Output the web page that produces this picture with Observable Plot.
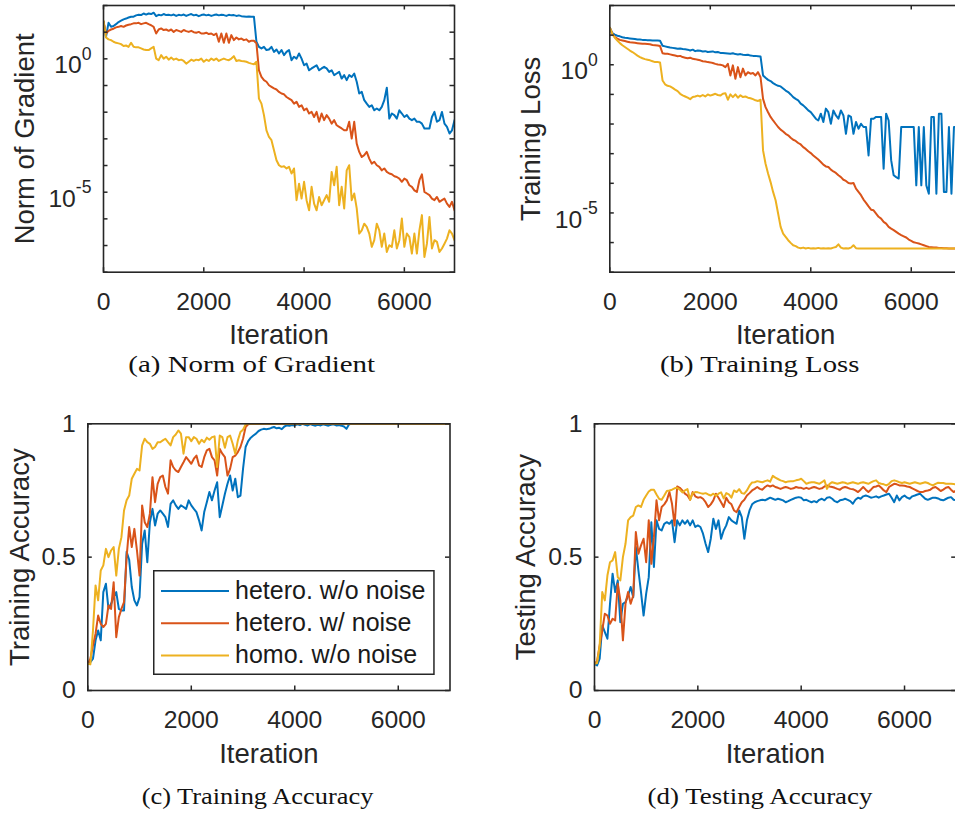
<!DOCTYPE html>
<html><head><meta charset="utf-8">
<script src="https://cdn.jsdelivr.net/npm/d3@7"></script>
<script src="https://cdn.jsdelivr.net/npm/@observablehq/plot@0.6"></script>
<style>
html,body{margin:0;padding:0;background:#fff;overflow:hidden}
#fig{position:relative;width:955px;height:816px;overflow:hidden;background:#fff}
.panel{position:absolute}
</style></head><body><div id="fig"></div>
<script>
// ---------------- data ----------------
const iterations = d3.range(0, 7001, 50); // sampling grid of the curves
const seriesNames = ["hetero. w/o noise", "hetero. w/ noise", "homo. w/o noise"];
const seriesColors = ["#0072BD", "#D95319", "#EDB120"];
const xTicks = [0, 2000, 4000, 6000];
const accTicks = [0, 0.5, 1];
const panelCaptions = ["(a) Norm of Gradient", "(b) Training Loss", "(c) Training Accuracy", "(d) Testing Accuracy"];
const yLabels = ["Norm of Gradient", "Training Loss", "Training Accuracy", "Testing Accuracy"];

// (a) norm of gradient, stored as log10 of the value (log axis)
const gradHeteroNoNoiseLog10 = [1.39,0.83,1.35,1.2,1.23,1.3,1.38,1.43,1.48,1.51,
1.55,1.58,1.58,1.63,1.65,1.64,1.7,1.66,1.7,1.68,
1.73,1.6,1.65,1.63,1.68,1.64,1.65,1.63,1.66,1.61,
1.65,1.63,1.66,1.61,1.65,1.68,1.63,1.65,1.6,1.64,
1.66,1.63,1.65,1.61,1.64,1.66,1.63,1.65,1.64,1.61,
1.65,1.63,1.64,1.61,1.63,1.6,1.59,1.58,1.59,1.58,
1.58,0.64,0.45,0.39,0.45,0.33,0.35,0.45,0.26,0.35,
0.2,0.33,0.14,0.26,0.33,-0.05,0.08,0.01,0.2,0.01,
-0.24,-0.18,-0.43,-0.36,-0.3,-0.24,-0.43,-0.36,-0.3,-0.36,
-0.49,-0.43,-0.61,-0.55,-0.49,-0.74,-0.61,-0.8,-0.61,-0.68,
-0.55,-0.86,-1.3,-1.24,-1.55,-1.68,-1.8,-1.74,-1.93,-1.86,
-1.93,-1.8,-1.55,-1.08,-2.24,-2.05,-2.11,-2.24,-1.93,-2.05,
-2.18,-2.11,-2.24,-2.3,-2.24,-2.36,-2.36,-2.43,-2.61,-2.61,
-2.61,-2.18,-1.99,-2.36,-2.3,-1.99,-2.43,-2.55,-2.8,-2.68,
-2.3];
const gradHeteroNoiseLog10 = [1.39,0.95,1.05,1.1,1.13,1.18,1.2,1.23,1.2,1.25,
1.28,1.3,1.33,1.33,1.35,1.3,1.33,1.35,1.3,1.26,
1.2,0.95,1.1,1.14,1.08,1.1,1.05,1.1,1.01,1.08,
1.05,1.01,1.08,1.04,1.01,1.05,1.0,0.98,1.01,0.95,
0.95,0.98,0.93,0.95,0.89,0.95,0.64,0.95,0.6,0.95,
0.6,0.89,0.7,0.8,0.73,0.76,0.7,0.73,0.64,0.68,
0.68,0.58,-0.43,-0.68,-0.8,-0.86,-0.99,-1.05,-1.11,-1.15,
-1.24,-1.3,-1.33,-1.43,-1.49,-1.55,-1.68,-1.61,-1.8,-1.74,
-1.93,-1.86,-2.05,-1.99,-2.18,-1.99,-2.36,-2.05,-2.3,-2.11,
-2.24,-2.43,-2.3,-2.49,-2.55,-2.61,-2.68,-2.68,-2.36,-2.99,
-2.36,-3.18,-3.49,-3.68,-3.61,-3.49,-3.74,-3.93,-3.86,-3.99,
-4.05,-4.18,-4.11,-4.24,-4.3,-4.33,-4.4,-4.43,-4.49,-4.61,
-4.49,-4.55,-4.74,-4.8,-4.93,-4.99,-4.55,-4.33,-4.99,-5.05,
-5.11,-5.24,-5.3,-5.18,-5.36,-5.3,-5.24,-5.43,-5.55,-5.36,
-5.68];
const gradHomoNoNoiseLog10 = [1.43,0.8,0.73,0.7,0.64,0.6,0.58,0.55,0.48,0.5,
0.45,0.6,0.45,0.43,0.43,0.39,0.35,0.33,0.33,0.39,
0.45,0.01,-0.05,0.14,0.01,0.08,-0.03,0.05,-0.03,0.01,
-0.05,-0.03,-0.08,-0.18,-0.11,-0.03,-0.08,-0.03,-0.05,0.01,
-0.11,-0.03,-0.08,0.01,-0.05,0.01,-0.08,-0.03,0.01,-0.03,
-0.05,0.01,0.1,-0.08,-0.05,-0.08,-0.09,-0.11,-0.15,-0.18,
-0.2,-0.11,-1.49,-1.68,-2.11,-2.68,-2.93,-3.05,-3.43,-3.8,
-3.99,-4.05,-4.03,-4.11,-4.05,-4.3,-4.11,-5.3,-4.68,-5.24,
-4.61,-5.3,-5.68,-4.8,-5.43,-5.68,-5.18,-5.49,-5.3,-5.11,
-5.36,-4.24,-4.74,-4.05,-5.49,-4.8,-5.61,-4.18,-3.99,-5.3,
-5.05,-5.61,-6.55,-6.43,-6.18,-6.3,-6.55,-7.05,-6.8,-6.18,
-6.43,-7.05,-6.55,-7.24,-6.99,-7.05,-6.43,-7.11,-6.8,-5.99,
-7.05,-6.55,-6.68,-7.3,-6.55,-7.3,-6.43,-5.86,-7.43,-6.93,
-5.93,-7.11,-6.8,-6.86,-7.24,-7.11,-6.93,-6.74,-6.43,-6.55,
-6.8];

// (b) training loss, stored as log10 of the value (log axis)
const lossHeteroNoNoiseLog10 = [1.25,1.07,1.02,0.98,0.96,0.93,0.91,0.9,0.89,0.88,
0.87,0.85,0.85,0.84,0.84,0.83,0.83,0.82,0.82,0.82,
0.81,0.64,0.62,0.6,0.58,0.57,0.56,0.54,0.55,0.53,
0.52,0.51,0.48,0.51,0.46,0.48,0.47,0.45,0.46,0.43,
0.44,0.45,0.42,0.43,0.4,0.4,0.39,0.38,0.37,0.39,
0.36,0.35,0.36,0.34,0.33,0.34,0.31,0.3,0.3,0.29,
0.28,-0.36,-0.44,-0.51,-0.55,-0.62,-0.67,-0.71,-0.73,-0.8,
-0.87,-0.92,-1.0,-1.09,-1.15,-1.2,-1.31,-1.37,-1.45,-1.54,
-1.6,-1.71,-1.82,-1.88,-1.65,-1.93,-1.48,-1.6,-1.99,-1.54,
-1.71,-1.82,-1.54,-1.71,-2.33,-1.71,-1.76,-2.33,-1.93,-2.16,
-1.99,-2.1,-2.1,-3.06,-1.82,-1.82,-1.76,-1.76,-1.76,-3.51,
-1.65,-1.88,-3.22,-3.73,-3.79,-3.84,-2.1,-2.1,-2.1,-2.1,
-2.1,-2.1,-4.07,-2.1,-4.07,-2.1,-4.07,-4.35,-1.76,-1.76,
-4.35,-1.65,-1.65,-4.29,-4.29,-2.1,-4.35,-2.1,-2.1,-4.46,
-2.1];
const lossHeteroNoiseLog10 = [1.25,1.04,0.93,0.88,0.84,0.82,0.8,0.78,0.76,0.75,
0.74,0.73,0.72,0.71,0.71,0.7,0.69,0.67,0.66,0.65,
0.63,0.39,0.37,0.37,0.35,0.33,0.31,0.29,0.3,0.26,
0.24,0.22,0.24,0.2,0.19,0.17,0.15,0.12,0.11,0.09,
0.08,0.06,0.03,0.01,0,-0.02,-0.08,0.03,-0.36,-0.02,
-0.47,-0.08,-0.42,-0.13,-0.36,-0.25,-0.3,-0.28,-0.36,-0.25,
-0.42,-1.15,-1.43,-1.6,-1.76,-1.88,-1.99,-2.1,-2.19,-2.25,
-2.33,-2.38,-2.46,-2.53,-2.57,-2.64,-2.69,-2.78,-2.84,-2.92,
-2.98,-3.06,-3.13,-3.2,-3.28,-3.37,-3.43,-3.45,-3.54,-3.6,
-3.65,-3.73,-3.79,-3.88,-3.92,-3.99,-4.01,-3.99,-4.18,-4.29,
-4.4,-4.55,-4.66,-4.78,-4.89,-4.91,-5.02,-5.13,-5.19,-5.3,
-5.36,-5.47,-5.53,-5.58,-5.64,-5.7,-5.75,-5.79,-5.83,-5.9,
-5.94,-5.99,-6.01,-6.03,-6.06,-6.09,-6.12,-6.15,-6.16,-6.17,
-6.17,-6.18,-6.18,-6.19,-6.19,-6.2,-6.2,-6.2,-6.2,-6.2,
-6.2];
const lossHomoNoNoiseLog10 = [1.25,1.04,0.91,0.82,0.73,0.66,0.6,0.54,0.48,0.43,
0.37,0.31,0.26,0.22,0.19,0.17,0.15,0.12,0.09,0.09,
0.08,-0.53,-0.66,-0.71,-0.73,-0.78,-0.84,-0.89,-0.98,-1.03,
-1.07,-1.11,-1.16,-1.09,-1.07,-1.04,-1.07,-1.02,-1.07,-1.0,
-1.04,-1.01,-0.98,-1.02,-1.04,-0.98,-0.96,-1.18,-1.0,-1.09,
-1.0,-1.11,-1.03,-1.09,-1.07,-1.11,-1.13,-1.16,-1.2,-1.22,
-1.18,-2.89,-3.34,-3.67,-3.96,-4.29,-4.57,-5.02,-5.47,-5.7,
-5.81,-5.92,-6.01,-6.09,-6.12,-6.17,-6.19,-6.17,-6.2,-6.18,
-6.2,-6.19,-6.2,-6.18,-6.2,-6.19,-6.2,-6.19,-6.2,-6.17,
-6.15,-6.06,-6.17,-6.2,-6.19,-6.2,-6.17,-6.09,-6.19,-6.2,
-6.2,-6.2,-6.2,-6.2,-6.2,-6.2,-6.2,-6.2,-6.2,-6.2,
-6.2,-6.2,-6.2,-6.2,-6.2,-6.2,-6.2,-6.2,-6.2,-6.2,
-6.2,-6.2,-6.2,-6.2,-6.2,-6.2,-6.2,-6.2,-6.2,-6.2,
-6.2,-6.2,-6.2,-6.2,-6.2,-6.2,-6.2,-6.2,-6.2,-6.2,
-6.2];

// (c) training accuracy
const trainAccHeteroNoNoise = [0.1,0.106,0.119,0.188,0.225,0.188,0.369,0.4,0.306,0.325,
0.35,0.369,0.306,0.3,0.3,0.52,0.49,0.388,0.338,0.319,
0.35,0.55,0.6,0.481,0.631,0.681,0.619,0.663,0.675,0.663,
0.65,0.613,0.7,0.713,0.694,0.681,0.694,0.688,0.681,0.713,
0.694,0.681,0.669,0.638,0.6,0.669,0.706,0.744,0.713,0.75,
0.781,0.65,0.694,0.738,0.775,0.806,0.75,0.794,0.725,0.731,
0.831,0.913,0.935,0.948,0.956,0.963,0.973,0.978,0.981,0.98,
0.981,0.985,0.988,0.983,0.985,0.98,0.99,0.994,0.993,0.995,
0.994,0.998,0.995,1,0.996,0.994,0.999,0.995,0.993,0.996,
0.994,0.998,0.995,0.993,0.996,0.998,0.994,0.995,0.993,0.99,
0.981,0.998,1,1,1,1,1,1,1,1,
1,1,1,1,1,1,1,1,1,1,
1,1,1,1,1,1,1,1,1,1,
1,1,1,1,1,1,1,1,1,1,
1];
const trainAccHeteroNoise = [0.1,0.119,0.169,0.213,0.281,0.25,0.238,0.25,0.319,0.306,
0.406,0.2,0.275,0.306,0.331,0.5,0.613,0.538,0.606,0.525,
0.431,0.694,0.631,0.613,0.663,0.8,0.706,0.775,0.8,0.806,
0.763,0.738,0.863,0.838,0.825,0.819,0.838,0.856,0.875,0.863,
0.85,0.869,0.881,0.844,0.838,0.875,0.9,0.906,0.875,0.863,
0.806,0.906,0.888,0.875,0.806,0.831,0.875,0.881,0.894,0.913,
0.944,0.988,0.998,1,1,1,1,1,1,1,
1,1,1,1,1,1,1,1,1,1,
1,1,1,1,1,1,1,1,1,1,
1,1,1,1,1,1,1,1,1,1,
1,1,1,1,1,1,1,1,1,1,
1,1,1,1,1,1,1,1,1,1,
1,1,1,1,1,1,1,1,1,1,
1,1,1,1,1,1,1,1,1,1,
1];
const trainAccHomoNoNoise = [0.1,0.098,0.225,0.394,0.338,0.45,0.469,0.531,0.5,0.525,
0.538,0.431,0.531,0.575,0.675,0.713,0.731,0.794,0.813,0.831,
0.825,0.919,0.944,0.931,0.925,0.906,0.913,0.931,0.931,0.938,
0.944,0.931,0.919,0.95,0.96,0.975,0.963,0.888,0.95,0.95,
0.935,0.95,0.944,0.925,0.94,0.931,0.948,0.94,0.95,0.953,
0.838,0.956,0.95,0.91,0.95,0.956,0.925,0.888,0.938,0.969,
0.978,0.998,1,1,1,1,1,1,1,1,
1,1,1,1,1,1,1,1,1,1,
1,1,1,1,1,1,1,1,1,1,
1,1,1,1,1,1,1,1,1,1,
1,1,1,1,1,1,1,1,1,1,
1,1,1,1,1,1,1,1,1,1,
1,1,1,1,1,1,1,1,1,1,
1,1,1,1,1,1,1,1,1,1,
1];

// (d) testing accuracy
const testAccHeteroNoNoise = [0.1,0.094,0.119,0.244,0.219,0.194,0.325,0.438,0.369,0.413,
0.256,0.325,0.331,0.356,0.388,0.35,0.538,0.45,0.369,0.281,
0.363,0.425,0.631,0.463,0.638,0.606,0.6,0.625,0.631,0.625,
0.638,0.556,0.638,0.619,0.638,0.625,0.638,0.619,0.638,0.613,
0.619,0.613,0.588,0.55,0.519,0.569,0.644,0.606,0.638,0.569,
0.6,0.619,0.65,0.638,0.631,0.625,0.675,0.65,0.569,0.638,
0.675,0.698,0.706,0.71,0.713,0.715,0.713,0.718,0.723,0.719,
0.715,0.719,0.716,0.713,0.706,0.71,0.715,0.719,0.723,0.725,
0.723,0.713,0.715,0.71,0.706,0.71,0.706,0.715,0.719,0.713,
0.723,0.725,0.719,0.71,0.706,0.713,0.715,0.719,0.715,0.71,
0.7,0.715,0.723,0.719,0.728,0.731,0.728,0.723,0.725,0.728,
0.723,0.728,0.731,0.735,0.738,0.723,0.706,0.731,0.713,0.725,
0.731,0.723,0.719,0.728,0.731,0.735,0.738,0.728,0.719,0.715,
0.719,0.723,0.723,0.72,0.715,0.713,0.718,0.723,0.725,0.715,
0.713];
const testAccHeteroNoise = [0.1,0.11,0.169,0.225,0.288,0.281,0.25,0.269,0.263,0.4,
0.338,0.188,0.325,0.369,0.325,0.356,0.594,0.513,0.544,0.569,
0.481,0.638,0.475,0.575,0.713,0.638,0.688,0.698,0.713,0.744,
0.7,0.619,0.765,0.76,0.75,0.738,0.731,0.715,0.744,0.728,
0.723,0.725,0.719,0.706,0.688,0.698,0.713,0.738,0.723,0.706,
0.688,0.723,0.706,0.698,0.675,0.669,0.688,0.706,0.715,0.731,
0.74,0.75,0.756,0.763,0.756,0.753,0.763,0.769,0.765,0.769,
0.763,0.76,0.756,0.76,0.763,0.76,0.756,0.758,0.763,0.76,
0.76,0.756,0.76,0.756,0.76,0.763,0.76,0.756,0.758,0.765,
0.769,0.765,0.763,0.76,0.756,0.753,0.76,0.763,0.76,0.756,
0.755,0.75,0.744,0.753,0.763,0.753,0.744,0.753,0.763,0.765,
0.769,0.76,0.75,0.744,0.763,0.769,0.775,0.773,0.769,0.769,
0.768,0.765,0.763,0.758,0.753,0.748,0.744,0.744,0.748,0.75,
0.753,0.76,0.763,0.756,0.748,0.753,0.76,0.763,0.753,0.744,
0.75];
const testAccHomoNoNoise = [0.1,0.103,0.169,0.369,0.338,0.431,0.481,0.488,0.519,0.425,
0.413,0.5,0.55,0.638,0.65,0.656,0.688,0.694,0.688,0.715,
0.731,0.746,0.753,0.753,0.735,0.719,0.715,0.731,0.748,0.75,
0.753,0.758,0.76,0.753,0.743,0.75,0.755,0.715,0.74,0.744,
0.743,0.74,0.738,0.74,0.735,0.731,0.738,0.73,0.738,0.743,
0.72,0.74,0.735,0.723,0.75,0.744,0.755,0.74,0.738,0.75,
0.768,0.78,0.781,0.785,0.783,0.781,0.785,0.788,0.783,0.805,
0.798,0.793,0.788,0.785,0.781,0.784,0.785,0.785,0.788,0.79,
0.794,0.785,0.775,0.779,0.781,0.781,0.778,0.775,0.781,0.788,
0.756,0.775,0.781,0.778,0.775,0.778,0.781,0.779,0.775,0.778,
0.781,0.778,0.775,0.779,0.781,0.778,0.775,0.78,0.785,0.788,
0.778,0.775,0.773,0.769,0.775,0.785,0.788,0.785,0.781,0.778,
0.781,0.778,0.775,0.778,0.781,0.778,0.775,0.778,0.781,0.778,
0.773,0.769,0.775,0.779,0.778,0.778,0.775,0.775,0.775,0.774,
0.773];

// ---------------- drawing ----------------
const INK = "#262626";
const TICK_FONT = 24.7, LABEL_FONT = 27.5, TICK_LEN = 4.5, SVGNS = "http://www.w3.org/2000/svg";
const fig = document.getElementById("fig");

function addPanel(cfg) {
  const {left, top, width, height, margin, series, logScale, yDomain, yTickMarks, yTickLabels, yTickFormat, yLabel, yLabelDx, yTickDy} = cfg;
  const rows = [];
  series.forEach((vals, si) => vals.forEach((v, i) => rows.push({it: iterations[i], v: logScale ? Math.pow(10, v) : v, s: seriesNames[si]})));
  const innerW = width - margin.left - margin.right;
  const innerH = height - margin.top - margin.bottom;
  const chart = Plot.plot({
    width, height,
    marginTop: margin.top, marginRight: margin.right, marginBottom: margin.bottom, marginLeft: margin.left,
    style: {fontFamily: "'Liberation Sans', Arimo, Arial, sans-serif", color: INK, background: "transparent", overflow: "visible"},
    x: {type: "linear", domain: [0, 7000]},
    y: logScale ? {type: "log", domain: yDomain} : {type: "linear", domain: yDomain},
    color: {domain: seriesNames, range: seriesColors},
    marks: [
      Plot.line(rows, {x: "it", y: "v", stroke: "s", strokeWidth: 2, clip: true}),
      Plot.frame({stroke: INK, strokeWidth: 1.6}),
      Plot.tickX(xTicks, {x: d => d, insetTop: innerH - TICK_LEN, stroke: INK, strokeWidth: 1.5}),
      Plot.tickX(xTicks, {x: d => d, insetBottom: innerH - TICK_LEN, stroke: INK, strokeWidth: 1.5}),
      Plot.tickY(yTickMarks, {y: d => d, insetRight: innerW - TICK_LEN, stroke: INK, strokeWidth: 1.5}),
      Plot.tickY(yTickMarks, {y: d => d, insetLeft: innerW - TICK_LEN, stroke: INK, strokeWidth: 1.5}),
      Plot.axisX({ticks: xTicks, tickSize: 0, tickPadding: 20, tickFormat: d => String(d), fontSize: TICK_FONT, label: null}),
      Plot.axisY({ticks: yTickLabels, tickSize: 0, tickPadding: 12, tickFormat: yTickFormat, fontSize: TICK_FONT, dy: yTickDy, label: null}),
      Plot.text(["Iteration"], {text: d => d, frameAnchor: "bottom", textAnchor: "middle", lineAnchor: "bottom", dy: 72, fontSize: LABEL_FONT, fill: INK}),
      Plot.text([yLabel], {text: d => d, frameAnchor: "left", textAnchor: "middle", rotate: -90, lineAnchor: "bottom", dx: yLabelDx, fontSize: LABEL_FONT, fill: INK})
    ]
  });
  // turn "10|e" tick labels into 10 with a superscript exponent
  chart.querySelectorAll("text").forEach(t => {
    const s = t.textContent;
    if (!s.includes("|")) return;
    const [base, exp] = s.split("|");
    t.textContent = base;
    const ts = document.createElementNS(SVGNS, "tspan");
    ts.setAttribute("dy", "-13.6");
    ts.setAttribute("font-size", "17.6");
    ts.textContent = exp;
    t.appendChild(ts);
  });
  const holder = document.createElement("div");
  holder.className = "panel";
  holder.style.left = left + "px";
  holder.style.top = top + "px";
  holder.style.width = width + "px";
  holder.style.height = height + "px";
  holder.appendChild(chart);
  fig.appendChild(holder);
}

const logFormat = d => "10|" + Math.round(Math.log10(d));
const accFormat = d => String(d);

addPanel({left: 0, top: 0, width: 478, height: 360, margin: {top: 5, right: 24, bottom: 88.3, left: 103},
  series: [gradHeteroNoNoiseLog10, gradHeteroNoiseLog10, gradHomoNoNoiseLog10], logScale: true,
  yDomain: [1e-8, 1e2], yTickMarks: [1e-8,1e-7,1e-6,1e-5,1e-4,1e-3,1e-2,1e-1,1,1e1,1e2], yTickLabels: [1e-5, 1],
  yTickFormat: logFormat, yLabel: yLabels[0], yLabelDx: -69.7, yTickDy: 6.7});
addPanel({left: 478, top: 0, width: 500, height: 360, margin: {top: 5, right: 17, bottom: 88.3, left: 131.3},
  series: [lossHeteroNoNoiseLog10, lossHeteroNoiseLog10, lossHomoNoNoiseLog10], logScale: true,
  yDomain: [1e-7, 1e2], yTickMarks: [1e-7,1e-6,1e-5,1e-4,1e-3,1e-2,1e-1,1,1e1,1e2], yTickLabels: [1e-5, 1],
  yTickFormat: logFormat, yLabel: yLabels[1], yLabelDx: -69.9, yTickDy: 6.7});
addPanel({left: 0, top: 400, width: 478, height: 375, margin: {top: 23.3, right: 28.5, bottom: 85, left: 87.3},
  series: [trainAccHeteroNoNoise, trainAccHeteroNoise, trainAccHomoNoNoise], logScale: false,
  yDomain: [0, 1], yTickMarks: accTicks, yTickLabels: accTicks,
  yTickFormat: accFormat, yLabel: yLabels[2], yLabelDx: -59.3, yTickDy: 0});
addPanel({left: 478, top: 400, width: 500, height: 375, margin: {top: 23.3, right: 22.3, bottom: 85, left: 116},
  series: [testAccHeteroNoNoise, testAccHeteroNoise, testAccHomoNoNoise], logScale: false,
  yDomain: [0, 1], yTickMarks: accTicks, yTickLabels: accTicks,
  yTickFormat: accFormat, yLabel: yLabels[3], yLabelDx: -59.3, yTickDy: 0});

// legend inside panel (c)
(function () {
  const lg = d3.create("svg").attr("width", 282).attr("height", 106)
    .style("position", "absolute").style("left", "153px").style("top", "570px");
  lg.append("rect").attr("x", 0.75).attr("y", 0.75).attr("width", 280.2).attr("height", 103.5)
    .attr("fill", "#fff").attr("stroke", INK).attr("stroke-width", 1.5);
  seriesNames.forEach((name, i) => {
    const y = 21 + i * 32.2;
    lg.append("line").attr("x1", 8).attr("x2", 76).attr("y1", y).attr("y2", y)
      .attr("stroke", seriesColors[i]).attr("stroke-width", 2);
    lg.append("text").attr("x", 82).attr("y", y + 7.8).text(name)
      .attr("font-family", "'Liberation Sans', Arimo, Arial, sans-serif").attr("font-size", 25).attr("fill", "#1a1a1a");
  });
  fig.appendChild(lg.node());
})();

// sub-figure captions
(function () {
  const cap = d3.create("svg").attr("width", 955).attr("height", 816)
    .style("position", "absolute").style("left", "0px").style("top", "0px").style("pointer-events", "none");
  const spec = [[251.7, 372, 246.7], [759.7, 372, 199.3], [257.5, 803.5, 231.7], [760, 803.5, 225]];
  panelCaptions.forEach((c, i) => {
    const [cx, by, w] = spec[i];
    cap.append("text").attr("x", cx - w / 2).attr("y", by).text(c)
      .attr("textLength", w).attr("lengthAdjust", "spacingAndGlyphs")
      .attr("font-family", "'Liberation Serif', 'Times New Roman', serif").attr("font-size", 22.5).attr("fill", "#111");
  });
  fig.appendChild(cap.node());
})();
</script></body></html>
